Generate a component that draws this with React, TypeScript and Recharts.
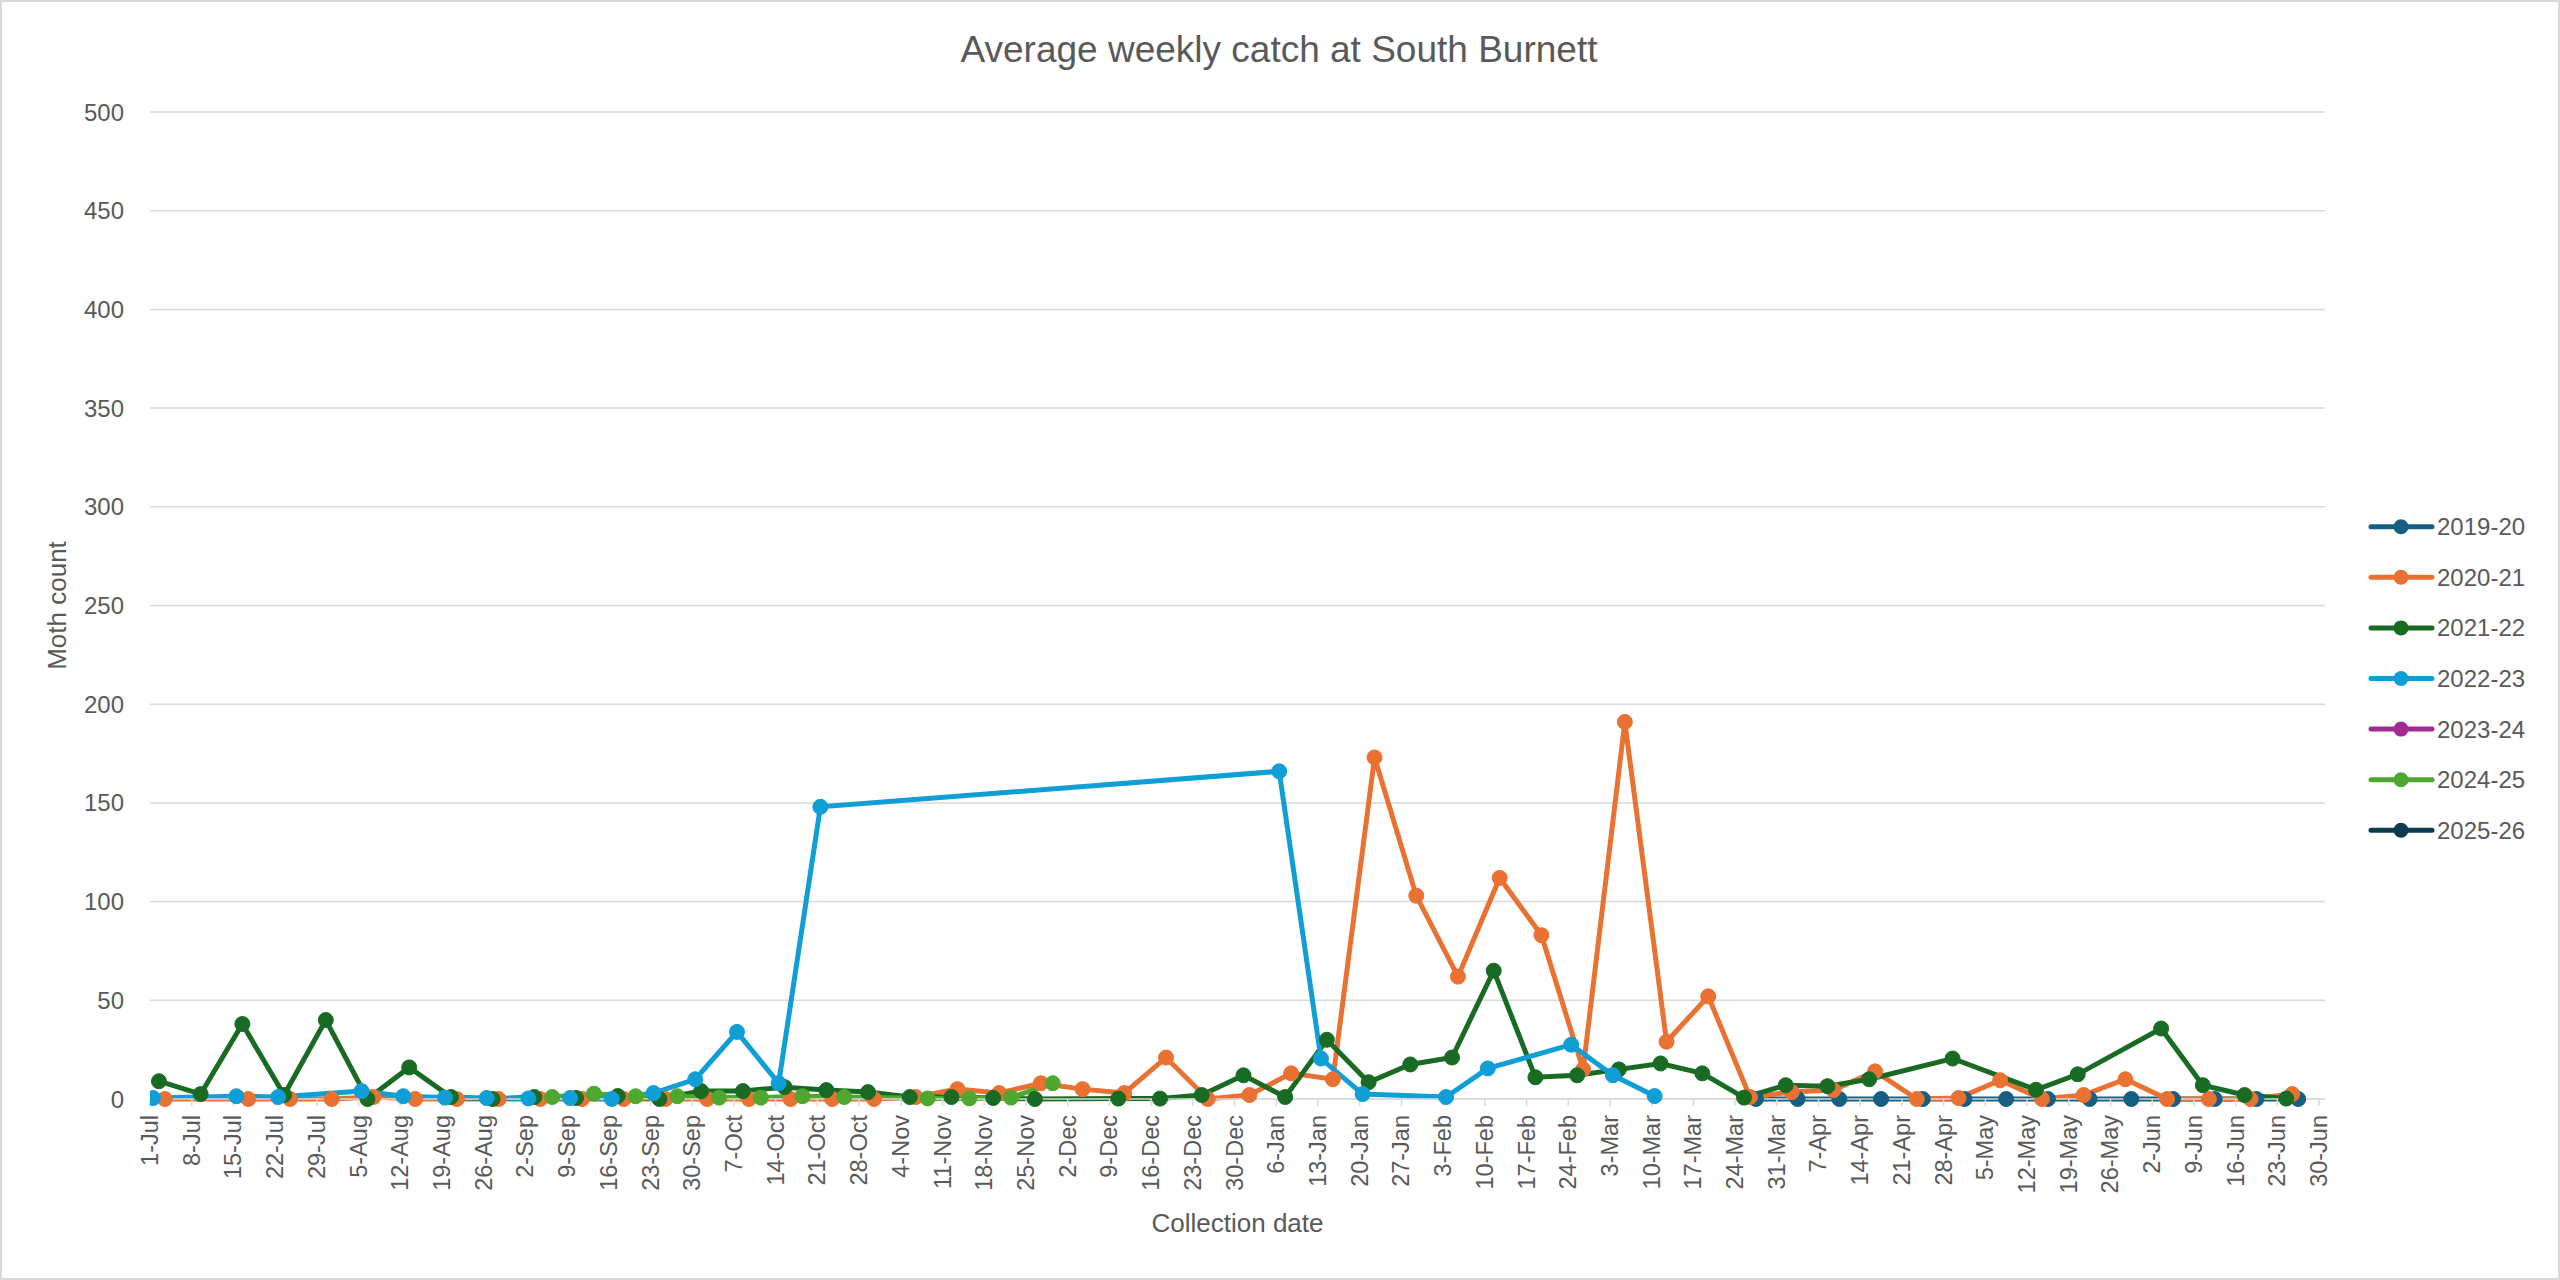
import React from 'react';
import { LineChart, Line, XAxis, YAxis, CartesianGrid, Legend, Label } from 'recharts';

const MONTH_START: Record<string, number> = {
  Jul: 0, Aug: 31, Sep: 62, Oct: 92, Nov: 123, Dec: 153,
  Jan: 184, Feb: 215, Mar: 243, Apr: 274, May: 304, Jun: 335,
};
const dayOfSeason = (s: string) => {
  const [d, m] = s.split('-');
  return MONTH_START[m] + Number(d) - 1;
};

const tickLabels = [
  '1-Jul', '8-Jul', '15-Jul', '22-Jul', '29-Jul', '5-Aug', '12-Aug', '19-Aug', '26-Aug',
  '2-Sep', '9-Sep', '16-Sep', '23-Sep', '30-Sep', '7-Oct', '14-Oct', '21-Oct', '28-Oct',
  '4-Nov', '11-Nov', '18-Nov', '25-Nov', '2-Dec', '9-Dec', '16-Dec', '23-Dec', '30-Dec',
  '6-Jan', '13-Jan', '20-Jan', '27-Jan', '3-Feb', '10-Feb', '17-Feb', '24-Feb',
  '3-Mar', '10-Mar', '17-Mar', '24-Mar', '31-Mar', '7-Apr', '14-Apr', '21-Apr', '28-Apr',
  '5-May', '12-May', '19-May', '26-May', '2-Jun', '9-Jun', '16-Jun', '23-Jun', '30-Jun',
];
const yTicks = [0, 50, 100, 150, 200, 250, 300, 350, 400, 450, 500];

// 2019-20
const dates1920 = ['27-Mar', '3-Apr', '10-Apr', '17-Apr', '24-Apr', '1-May', '8-May', '15-May',
  '22-May', '29-May', '5-Jun', '12-Jun', '19-Jun', '26-Jun'];
const values1920 = [0, 0, 0, 0, 0, 0, 0, 0, 0, 0, 0, 0, 0, 0];

// 2020-21
const dates2021 = ['3-Jul', '17-Jul', '24-Jul', '31-Jul', '7-Aug', '14-Aug', '21-Aug', '28-Aug',
  '4-Sep', '11-Sep', '18-Sep', '25-Sep', '2-Oct', '9-Oct', '16-Oct', '23-Oct', '30-Oct',
  '6-Nov', '13-Nov', '20-Nov', '27-Nov', '4-Dec', '11-Dec', '18-Dec', '25-Dec',
  '1-Jan', '8-Jan', '15-Jan', '22-Jan', '29-Jan', '5-Feb', '12-Feb', '19-Feb', '26-Feb',
  '5-Mar', '12-Mar', '19-Mar', '26-Mar', '2-Apr', '9-Apr', '16-Apr', '23-Apr', '30-Apr',
  '7-May', '14-May', '21-May', '28-May', '4-Jun', '11-Jun', '18-Jun', '25-Jun'];
const values2021 = [0, 0, 0, 0, 1, 0, 0, 0,
  0, 0, 0, 0, 0, 0, 0, 0, 0,
  1, 5, 3, 8, 5, 3, 21, 0,
  2, 13, 10, 173, 103, 62, 112, 83, 15,
  191, 29, 52, 1, 3.5, 4.5, 14, 0, 0.5,
  9.5, 0, 2, 10, 0, 0, 0, 2.5];

// 2021-22
const dates2122 = ['2-Jul', '9-Jul', '16-Jul', '23-Jul', '30-Jul', '6-Aug', '13-Aug', '20-Aug', '27-Aug',
  '3-Sep', '10-Sep', '17-Sep', '24-Sep', '1-Oct', '8-Oct', '15-Oct', '22-Oct', '29-Oct',
  '5-Nov', '12-Nov', '19-Nov', '26-Nov', '10-Dec', '17-Dec', '24-Dec', '31-Dec',
  '7-Jan', '14-Jan', '21-Jan', '28-Jan', '4-Feb', '11-Feb', '18-Feb', '25-Feb',
  '4-Mar', '11-Mar', '18-Mar', '25-Mar', '1-Apr', '8-Apr', '15-Apr', '29-Apr',
  '13-May', '20-May', '3-Jun', '10-Jun', '17-Jun', '24-Jun'];
const values2122 = [9, 2.5, 38, 2, 40, 0, 16, 1, 0,
  1, 0.5, 1.5, 0, 4, 4, 6, 4.5, 3.5,
  1, 1, 0.5, 0, 0.2, 0.2, 2, 12,
  1, 30, 8.5, 17.5, 21, 65, 11, 12,
  15, 18, 13, 0.7, 7, 6.5, 10, 20.5,
  4.7, 12.5, 35.7, 7, 2, 0.2];

// 2022-23
const dates2223 = ['1-Jul', '15-Jul', '22-Jul', '5-Aug', '12-Aug', '19-Aug', '26-Aug',
  '2-Sep', '9-Sep', '16-Sep', '23-Sep', '30-Sep', '7-Oct', '14-Oct', '21-Oct',
  '6-Jan', '13-Jan', '20-Jan', '3-Feb', '10-Feb', '24-Feb', '3-Mar', '10-Mar'];
const values2223 = [0.5, 1.4, 1, 4, 1.4, 0.7, 0.5,
  0.3, 0.5, 0, 3, 10, 34, 8, 148,
  166, 20.5, 2.5, 1, 15.5, 27.5, 12, 1.5];

// 2023-24
const dates2324: string[] = [];
const values2324: number[] = [];

// 2024-25
const dates2425 = ['6-Sep', '13-Sep', '20-Sep', '27-Sep', '4-Oct', '11-Oct', '18-Oct', '25-Oct',
  '8-Nov', '15-Nov', '22-Nov', '29-Nov'];
const values2425 = [1, 2.7, 1.4, 1.4, 0.7, 0.7, 1.4, 1, 0.3, 0.3, 0.7, 8];

// 2025-26
const dates2526: string[] = [];
const values2526: number[] = [];

const seasonNames = ['2019-20', '2020-21', '2021-22', '2022-23', '2023-24', '2024-25', '2025-26'];
const seasonColors = ['#156082', '#E97132', '#196B24', '#0F9ED5', '#A02B93', '#4EA72E', '#0C3A4F'];
const seasonDates = [dates1920, dates2021, dates2122, dates2223, dates2324, dates2425, dates2526];
const seasonValues = [values1920, values2021, values2122, values2223, values2324, values2425, values2526];

// Excel date axis centres each point in its day slot
const series = seasonNames.map((name, i) => ({
  name,
  color: seasonColors[i],
  data: seasonDates[i].map((d, j) => ({ x: dayOfSeason(d) + 0.5, y: seasonValues[i][j] })),
}));

const xTicks = tickLabels.map(dayOfSeason);
const labelByDay: Record<number, string> = {};
tickLabels.forEach((l) => { labelByDay[dayOfSeason(l)] = l; });

const TEXT = '#595959';
const GRID = '#d9d9d9';
const FONT = "'Liberation Sans', Arial, sans-serif";

const XTick = (props: any) => {
  const { x, y, payload } = props;
  return (
    <text
      x={x}
      y={y}
      transform={`rotate(-90 ${x} ${y})`}
      textAnchor="end"
      dominantBaseline="central"
      fill={TEXT}
      fontSize={23.5}
      fontFamily={FONT}
    >
      {labelByDay[payload.value]}
    </text>
  );
};

const LegendContent = (props: any) => {
  const payload = props.payload || [];
  return (
    <svg width={195} height={380} style={{ display: 'block', overflow: 'visible' }}>
      {payload.map((entry: any, i: number) => {
        const cy = 26.7 + 50.6 * i;
        return (
          <g key={entry.value}>
            <line x1={7} x2={68} y1={cy} y2={cy} stroke={entry.color} strokeWidth={5} strokeLinecap="round" />
            <circle cx={37} cy={cy} r={7.5} fill={entry.color} />
            <text x={73} y={cy} dominantBaseline="central" fill={TEXT} fontSize={24} fontFamily={FONT}>
              {entry.value}
            </text>
          </g>
        );
      })}
    </svg>
  );
};

export default function App() {
  return (
    <div style={{ position: 'absolute', left: 0, top: 0, width: 2560, height: 1280, background: '#fff', fontFamily: FONT }}>
      <svg width={2560} height={1280} style={{ position: 'absolute', left: 0, top: 0 }}>
        <rect x={1} y={1} width={2558} height={1278} fill="none" stroke={GRID} strokeWidth={2} />
        <text x={1279} y={62} textAnchor="middle" fill={TEXT} fontSize={37} fontFamily={FONT}>
          Average weekly catch at South Burnett
        </text>
      </svg>
      <div style={{ position: 'absolute', left: 0, top: 0 }}>
        <LineChart width={2560} height={1280} margin={{ top: 112, right: 235, bottom: 0, left: 0 }}>
          <CartesianGrid vertical={false} stroke={GRID} strokeWidth={1.5} />
          <XAxis
            type="number"
            dataKey="x"
            domain={[0, 365]}
            ticks={xTicks}
            interval={0}
            allowDataOverflow
            height={181}
            tickSize={7}
            tickMargin={9}
            tick={XTick}
            axisLine={{ stroke: GRID, strokeWidth: 1.5 }}
            tickLine={{ stroke: GRID, strokeWidth: 1.5 }}
          >
            <Label
              content={(p: any) => {
                const vb = p.viewBox;
                return (
                  <text x={vb.x + vb.width / 2} y={vb.y + 133} textAnchor="middle" fill={TEXT} fontSize={26} fontFamily={FONT}>
                    Collection date
                  </text>
                );
              }}
            />
          </XAxis>
          <YAxis
            type="number"
            domain={[0, 500]}
            ticks={yTicks}
            interval={0}
            width={150}
            axisLine={false}
            tickLine={false}
            tickMargin={20}
            tick={{ fill: TEXT, fontSize: 24, fontFamily: FONT }}
          >
            <Label
              content={(p: any) => {
                const vb = p.viewBox;
                const cy = vb.y + vb.height / 2;
                return (
                  <text x={57} y={cy} transform={`rotate(-90 57 ${cy})`} textAnchor="middle" dominantBaseline="central" fill={TEXT} fontSize={26} fontFamily={FONT}>
                    Moth count
                  </text>
                );
              }}
            />
          </YAxis>
          <Legend
            layout="vertical"
            content={LegendContent}
            wrapperStyle={{ position: 'absolute', left: 2364, top: 500, width: 0, height: 0, overflow: 'visible' }}
          />
          {series.map((s) => (
            <Line
              key={s.name}
              name={s.name}
              data={s.data}
              dataKey="y"
              type="linear"
              stroke={s.color}
              strokeWidth={5}
              dot={{ r: 7.5, fill: s.color, stroke: s.color, strokeWidth: 1 }}
              activeDot={false}
              isAnimationActive={false}
              legendType="line"
            />
          ))}
        </LineChart>
      </div>
    </div>
  );
}
